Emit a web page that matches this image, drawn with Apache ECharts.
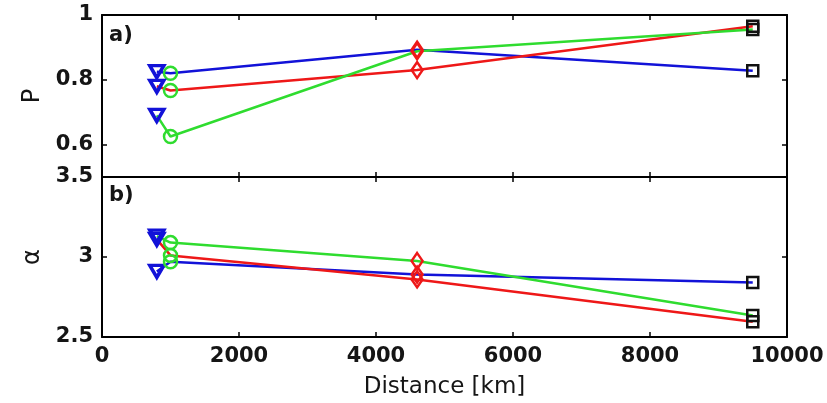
<!DOCTYPE html>
<html><head><meta charset="utf-8">
<script src="https://cdn.jsdelivr.net/npm/echarts@6/dist/echarts.min.js"></script>
<style>html,body{margin:0;padding:0;background:#fff}#c{width:827px;height:403px}</style>
</head><body><div id="c"></div>
<script>
// Data
var distances = [800, 1000, 4600, 9500];
var pBlue  = [0.825, 0.820, 0.893, 0.828];
var pRed   = [0.780, 0.767, 0.830, 0.965];
var pGreen = [0.690, 0.625, 0.888, 0.955];
var aBlue  = [2.91, 2.97, 2.89, 2.84];
var aRed   = [3.11, 3.01, 2.86, 2.595];
var aGreen = [3.13, 3.09, 2.975, 2.635];
var xTicks = [0, 2000, 4000, 6000, 8000, 10000];
var pTicks = [0.6, 0.8, 1];
var aTicks = [2.5, 3, 3.5];

// Styles
var lineColors = {blue:'#1212d8', red:'#ee1818', green:'#2fdc2f'};
var markerDefs = [
  {symbol:'triangle', rotate:180, size:[14,12], color:'#1212d8', bw:3.5},
  {symbol:'circle', rotate:0, size:13, color:'#2fdc2f', bw:2.5},
  {symbol:'diamond', rotate:0, size:[11,16], color:'#ee1818', bw:2.5},
  {symbol:'rect', rotate:0, size:11, color:'#111111', bw:2.5}
];
function buildData(vals){
  return distances.map(function(d,i){
    var m = markerDefs[i];
    return {value:[d, vals[i]], symbol:m.symbol, symbolRotate:m.rotate, symbolSize:m.size,
      itemStyle:{color:'rgba(255,255,255,0)', borderColor:m.color, borderWidth:m.bw}};
  });
}
function mkSeries(vals, color, xi, yi){
  return {type:'line', xAxisIndex:xi, yAxisIndex:yi, data:buildData(vals),
    lineStyle:{color:color, width:2.5}, showSymbol:true, animation:false, z:3};
}
var fontFam = 'DejaVu Sans';
function xAx(grid, pos, showLabel, name){
  var o = {type:'value', gridIndex:grid, position:pos, min:0, max:10000, interval:2000,
    axisLine:{show:true, onZero:false, lineStyle:{color:'#000', width:2}},
    axisTick:{show:true, inside:true, length:5, lineStyle:{color:'#000', width:1.5}},
    axisLabel:{show:showLabel, color:'#151515', fontSize:21, fontWeight:'bold', fontFamily:fontFam, margin:9,
      formatter:function(v){return String(v);}},
    splitLine:{show:false}};
  if(name){ o.name=name; o.nameLocation='middle'; o.nameGap=39;
    o.nameTextStyle={color:'#151515', fontSize:23, fontFamily:fontFam}; }
  return o;
}
function yAx(grid, pos, min, max, ticks, showLabel, name){
  var o = {type:'value', gridIndex:grid, position:pos, min:min, max:max,
    axisLine:{show:true, onZero:false, lineStyle:{color:'#000', width:2}},
    axisTick:{show:true, inside:true, length:5, customValues:ticks, lineStyle:{color:'#000', width:1.5}},
    axisLabel:{show:showLabel, customValues:ticks, color:'#151515', fontSize:21, fontWeight:'bold', fontFamily:fontFam, margin:9,
      formatter:function(v){return String(Math.round(v*100)/100);}},
    splitLine:{show:false}};
  if(name){ o.name=name; o.nameLocation='middle'; o.nameGap=56; o.nameRotate=90;
    o.nameTextStyle={color:'#151515', fontSize:24, fontFamily:fontFam}; }
  return o;
}
var chart = echarts.init(document.getElementById('c'), null, {renderer:'canvas'});
chart.setOption({
  animation:false,
  backgroundColor:'#fff',
  grid:[
    {left:102, top:15, width:685, height:162},
    {left:102, top:177, width:685, height:160}
  ],
  xAxis:[
    xAx(0,'bottom',false), xAx(0,'top',false),
    xAx(1,'bottom',true,'Distance [km]'), xAx(1,'top',false)
  ],
  yAxis:[
    yAx(0,'left',0.5,1,pTicks,true,'P'), yAx(0,'right',0.5,1,pTicks,false),
    yAx(1,'left',2.5,3.5,aTicks,true,'\u03b1'), yAx(1,'right',2.5,3.5,aTicks,false)
  ],
  graphic:[
    {type:'text', left:109, top:25, style:{text:'a)', font:'bold 21px "DejaVu Sans"', fill:'#151515'}},
    {type:'text', left:109, top:185, style:{text:'b)', font:'bold 21px "DejaVu Sans"', fill:'#151515'}}
  ],
  series:[
    mkSeries(pBlue, lineColors.blue, 0, 0),
    mkSeries(pRed, lineColors.red, 0, 0),
    mkSeries(pGreen, lineColors.green, 0, 0),
    mkSeries(aBlue, lineColors.blue, 2, 2),
    mkSeries(aRed, lineColors.red, 2, 2),
    mkSeries(aGreen, lineColors.green, 2, 2)
  ]
});
</script></body></html>
